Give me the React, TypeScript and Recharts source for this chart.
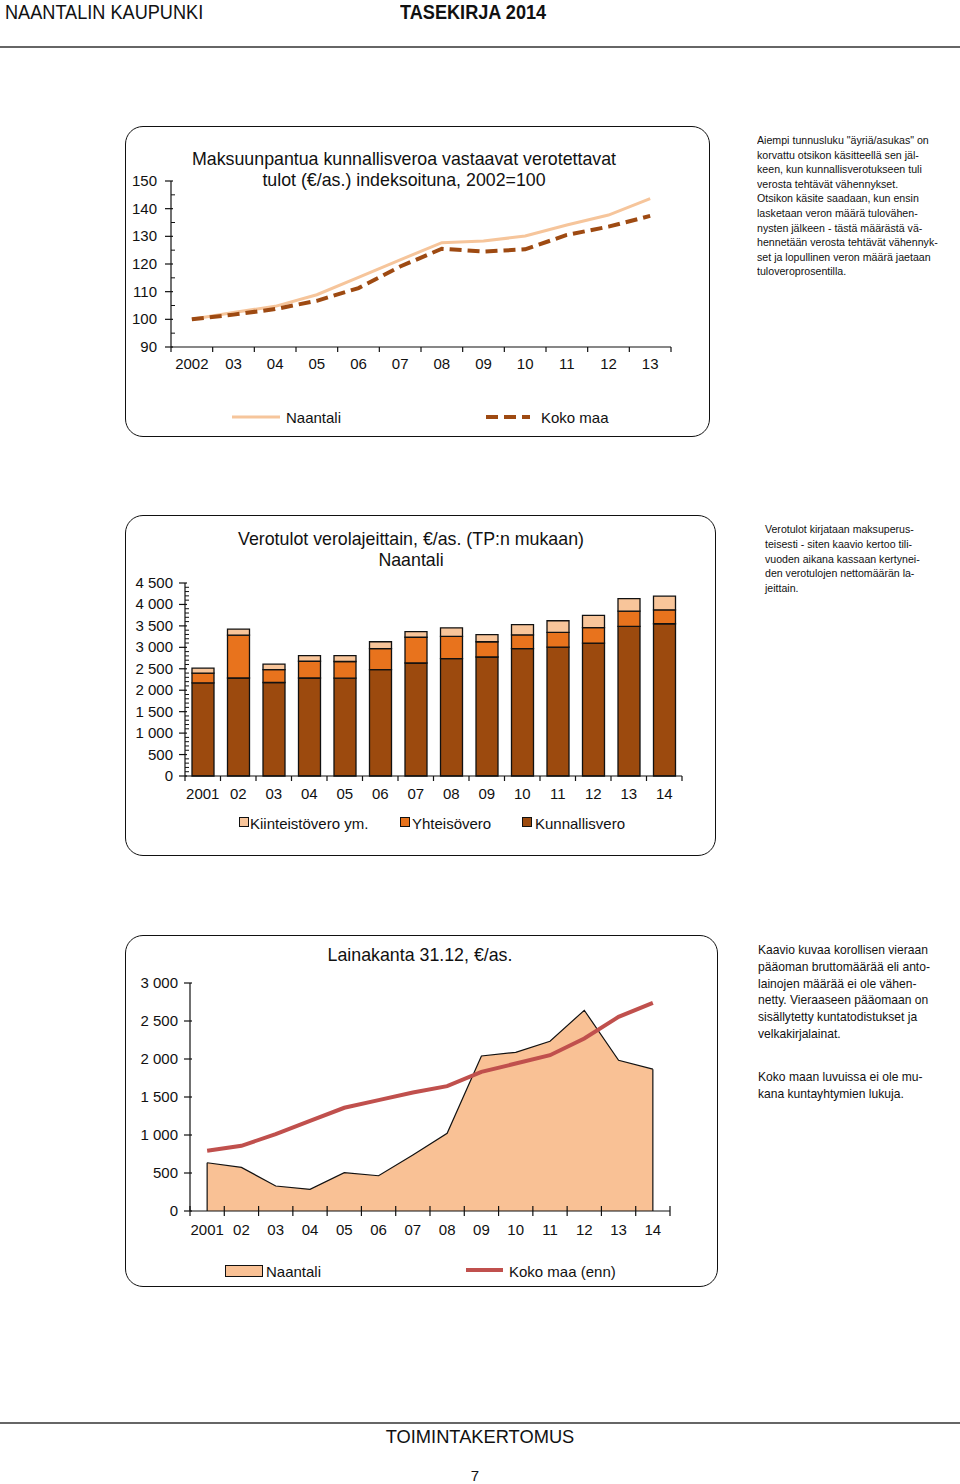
import React from "react";
import {
  LineChart,
  Line,
  BarChart,
  Bar,
  ComposedChart,
  Area,
  XAxis,
  YAxis,
  ReferenceLine,
} from "recharts";

// --- chart 1: taxable income index ---
const indexYears = ["2002", "03", "04", "05", "06", "07", "08", "09", "10", "11", "12", "13"];
const naantaliIndex = [100, 102.5, 104.7, 108.9, 115.2, 121.5, 127.7, 128.3, 130.1, 134.1, 137.7, 143.6];
const kokoMaaIndex = [100, 101.7, 103.7, 106.7, 111.3, 119.1, 125.5, 124.5, 125.3, 130.5, 133.5, 137.4];
const indexTicks = [90, 95, 100, 105, 110, 115, 120, 125, 130, 135, 140, 145, 150];

// --- chart 2: tax revenue by type ---
const taxYears = ["2001", "02", "03", "04", "05", "06", "07", "08", "09", "10", "11", "12", "13", "14"];
const kunnallisvero = [2170, 2285, 2180, 2285, 2280, 2480, 2635, 2735, 2775, 2970, 3005, 3100, 3490, 3550];
const yhteisovero = [230, 1000, 300, 390, 390, 490, 600, 520, 355, 320, 345, 360, 355, 325];
const kiinteistovero = [115, 140, 130, 130, 135, 160, 130, 200, 165, 240, 270, 285, 290, 320];

// --- chart 3: loan stock ---
const loanYears = ["2001", "02", "03", "04", "05", "06", "07", "08", "09", "10", "11", "12", "13", "14"];
const naantaliLoan = [635, 574, 329, 285, 504, 464, 737, 1022, 2040, 2088, 2234, 2641, 1984, 1866];
const kokoMaaLoan = [793, 858, 1012, 1187, 1358, 1459, 1559, 1643, 1831, 1940, 2050, 2269, 2554, 2738];
const loanTicks = [0, 500, 1000, 1500, 2000, 2500, 3000];

const indexData = indexYears.map((y, i) => ({ year: y, naantali: naantaliIndex[i], kokoMaa: kokoMaaIndex[i] }));
const taxData = taxYears.map((y, i) => ({
  year: y,
  kunnallis: kunnallisvero[i],
  yhteiso: yhteisovero[i],
  kiinteisto: kiinteistovero[i],
}));
const loanData = loanYears.map((y, i) => ({ year: y, naantali: naantaliLoan[i], kokoMaa: kokoMaaLoan[i] }));

// minor ticks every 100 on the tax chart
const taxTicks: number[] = [];
for (let v = 0; v <= 4500; v += 100) taxTicks.push(v);

const FONT = "'Liberation Sans', Arial, sans-serif";
const INK = "#111";

function fmtThousands(v: number): string {
  if (v < 1000) return String(v);
  return `${Math.floor(v / 1000)}\u00a0${String(v % 1000).padStart(3, "0")}`;
}

function makeYTick(opts: { majorStep: number; labelGap: number; fmt?: (v: number) => string }) {
  return (props: any) => {
    const { x, y, payload } = props;
    const v = payload.value as number;
    const major = v % opts.majorStep === 0;
    return (
      <g>
        {major ? (
          <line x1={x - 6} x2={x + 2} y1={y} y2={y} stroke={INK} strokeWidth={1.2} />
        ) : (
          <line x1={x} x2={x + 4} y1={y} y2={y} stroke={INK} strokeWidth={1} />
        )}
        {major && (
          <text x={x - opts.labelGap} y={y + 5} textAnchor="end" fontSize={15} fontFamily={FONT} fill={INK}>
            {opts.fmt ? opts.fmt(v) : v}
          </text>
        )}
      </g>
    );
  };
}

function makeXTick(band: number, count: number, labelDy: number, up: number) {
  return (props: any) => {
    const { x, y, payload, index } = props;
    const left = x - band / 2;
    const right = x + band / 2;
    return (
      <g>
        <line x1={left} x2={left} y1={y - up} y2={y + 5} stroke={INK} strokeWidth={1.2} />
        {index === count - 1 && <line x1={right} x2={right} y1={y - up} y2={y + 5} stroke={INK} strokeWidth={1.2} />}
        <text x={x} y={y + labelDy} textAnchor="middle" fontSize={15} fontFamily={FONT} fill={INK}>
          {payload.value}
        </text>
      </g>
    );
  };
}

const boxStyle: React.CSSProperties = {
  position: "absolute",
  left: 0,
  top: 0,
  right: 0,
  bottom: 0,
  border: `1.6px solid ${INK}`,
  borderRadius: 18,
};

const titleStyle: React.CSSProperties = {
  position: "absolute",
  fontFamily: FONT,
  fontSize: 17.8,
  color: INK,
  whiteSpace: "nowrap",
  transform: "translate(-50%, -50%)",
  lineHeight: 1,
};

const legendText: React.CSSProperties = {
  position: "absolute",
  fontFamily: FONT,
  fontSize: 15,
  color: INK,
  whiteSpace: "nowrap",
  transform: "translateY(-50%)",
  lineHeight: 1,
};

function IndexChart() {
  const W = 585;
  const H = 311;
  const m = { top: 55, right: 39, bottom: 60, left: 0 };
  const yW = 46;
  const band = (W - m.left - m.right - yW) / indexYears.length;
  return (
    <div style={{ position: "absolute", left: 125, top: 126, width: W, height: H }}>
      <div style={boxStyle} />
      <div style={{ position: "absolute", left: 0, top: 0 }}>
        <LineChart width={W} height={H} data={indexData} margin={m}>
          <XAxis
            dataKey="year"
            scale="band"
            interval={0}
            axisLine={{ stroke: INK, strokeWidth: 1.2 }}
            tickLine={false}
            tickSize={0}
            tickMargin={0}
            height={30}
            tick={makeXTick(band, indexYears.length, 22, 0)}
          />
          <YAxis
            width={yW}
            domain={[90, 150]}
            ticks={indexTicks}
            interval={0}
            axisLine={{ stroke: INK, strokeWidth: 1.2 }}
            tickLine={false}
            tickSize={0}
            tickMargin={0}
            tick={makeYTick({ majorStep: 10, labelGap: 14 })}
          />
          <Line type="linear" dataKey="naantali" stroke="#F6C59B" strokeWidth={3} dot={false} isAnimationActive={false} />
          <Line
            type="linear"
            dataKey="kokoMaa"
            stroke="#9E4A12"
            strokeWidth={4}
            strokeDasharray="12 6"
            dot={false}
            isAnimationActive={false}
          />
        </LineChart>
      </div>
      <div style={{ ...titleStyle, left: 279, top: 34 }}>Maksuunpantua kunnallisveroa vastaavat verotettavat</div>
      <div style={{ ...titleStyle, left: 279, top: 55 }}>tulot (€/as.) indeksoituna, 2002=100</div>
      <svg style={{ position: "absolute", left: 0, top: 0 }} width={W} height={H}>
        <line x1={107} x2={155} y1={291} y2={291} stroke="#F6C59B" strokeWidth={3} />
        <line x1={361} x2={405} y1={291} y2={291} stroke="#9E4A12" strokeWidth={4} strokeDasharray="12 6" />
      </svg>
      <div style={{ ...legendText, left: 161, top: 291 }}>Naantali</div>
      <div style={{ ...legendText, left: 416, top: 291 }}>Koko maa</div>
    </div>
  );
}

function TaxChart() {
  const W = 591;
  const H = 341;
  const m = { top: 68, right: 34, bottom: 50, left: 0 };
  const yW = 60;
  const band = (W - m.left - m.right - yW) / taxYears.length;
  const sq = (c: string): React.CSSProperties => ({
    position: "absolute",
    width: 8,
    height: 8,
    background: c,
    border: `1px solid ${INK}`,
    transform: "translateY(-50%)",
  });
  return (
    <div style={{ position: "absolute", left: 125, top: 515, width: W, height: H }}>
      <div style={boxStyle} />
      <div style={{ position: "absolute", left: 0, top: 0 }}>
        <BarChart width={W} height={H} data={taxData} margin={m} barSize={22}>
          <XAxis
            dataKey="year"
            interval={0}
            axisLine={{ stroke: INK, strokeWidth: 1.2 }}
            tickLine={false}
            tickSize={0}
            tickMargin={0}
            height={30}
            tick={makeXTick(band, taxYears.length, 23, 0)}
          />
          <YAxis
            width={yW}
            domain={[0, 4500]}
            ticks={taxTicks}
            interval={0}
            axisLine={{ stroke: INK, strokeWidth: 1.2 }}
            tickLine={false}
            tickSize={0}
            tickMargin={0}
            tick={makeYTick({ majorStep: 500, labelGap: 12, fmt: fmtThousands })}
          />
          <Bar dataKey="kunnallis" stackId="t" fill="#9C4A0E" stroke={INK} strokeWidth={1.3} isAnimationActive={false} />
          <Bar dataKey="yhteiso" stackId="t" fill="#E8731D" stroke={INK} strokeWidth={1.3} isAnimationActive={false} />
          <Bar dataKey="kiinteisto" stackId="t" fill="#F8C59A" stroke={INK} strokeWidth={1.3} isAnimationActive={false} />
        </BarChart>
      </div>
      <div style={{ ...titleStyle, left: 286, top: 25 }}>Verotulot verolajeittain, €/as. (TP:n mukaan)</div>
      <div style={{ ...titleStyle, left: 286, top: 46 }}>Naantali</div>
      <div style={{ ...sq("#F8C59A"), left: 114, top: 307 }} />
      <div style={{ ...legendText, left: 125, top: 308 }}>Kiinteistövero ym.</div>
      <div style={{ ...sq("#E8731D"), left: 275, top: 307 }} />
      <div style={{ ...legendText, left: 287, top: 308 }}>Yhteisövero</div>
      <div style={{ ...sq("#9C4A0E"), left: 397, top: 307 }} />
      <div style={{ ...legendText, left: 410, top: 308 }}>Kunnallisvero</div>
    </div>
  );
}

function LoanChart() {
  const W = 593;
  const H = 352;
  const m = { top: 48, right: 48, bottom: 46, left: 0 };
  const yW = 65;
  const band = (W - m.left - m.right - yW) / loanYears.length;
  const first = loanYears[0];
  const last = loanYears[loanYears.length - 1];
  return (
    <div style={{ position: "absolute", left: 125, top: 935, width: W, height: H }}>
      <div style={boxStyle} />
      <div style={{ position: "absolute", left: 0, top: 0 }}>
        <ComposedChart width={W} height={H} data={loanData} margin={m}>
          <XAxis
            dataKey="year"
            scale="band"
            interval={0}
            axisLine={{ stroke: INK, strokeWidth: 1.2 }}
            tickLine={false}
            tickSize={0}
            tickMargin={0}
            height={30}
            tick={makeXTick(band, loanYears.length, 24, 5)}
          />
          <YAxis
            width={yW}
            domain={[0, 3000]}
            ticks={loanTicks}
            interval={0}
            axisLine={{ stroke: INK, strokeWidth: 1.2 }}
            tickLine={false}
            tickSize={0}
            tickMargin={0}
            tick={makeYTick({ majorStep: 500, labelGap: 12, fmt: fmtThousands })}
          />
          <Area
            type="linear"
            dataKey="naantali"
            fill="#F9C195"
            fillOpacity={1}
            stroke={INK}
            strokeWidth={1.2}
            isAnimationActive={false}
          />
          <ReferenceLine
            segment={[
              { x: first, y: 0 },
              { x: first, y: naantaliLoan[0] },
            ]}
            stroke={INK}
            strokeWidth={1.2}
          />
          <ReferenceLine
            segment={[
              { x: last, y: 0 },
              { x: last, y: naantaliLoan[naantaliLoan.length - 1] },
            ]}
            stroke={INK}
            strokeWidth={1.2}
          />
          <Line type="linear" dataKey="kokoMaa" stroke="#C0504D" strokeWidth={4} dot={false} isAnimationActive={false} />
        </ComposedChart>
      </div>
      <div style={{ ...titleStyle, left: 295, top: 21 }}>Lainakanta 31.12, €/as.</div>
      <div
        style={{
          position: "absolute",
          left: 100,
          top: 330,
          width: 36,
          height: 10,
          background: "#F9C195",
          border: `1.2px solid ${INK}`,
        }}
      />
      <div style={{ ...legendText, left: 141, top: 336 }}>Naantali</div>
      <svg style={{ position: "absolute", left: 0, top: 0 }} width={W} height={H}>
        <line x1={341} x2={378} y1={335} y2={335} stroke="#C0504D" strokeWidth={4} />
      </svg>
      <div style={{ ...legendText, left: 384, top: 336 }}>Koko maa (enn)</div>
    </div>
  );
}

// the source uses a condensed face; squeeze horizontally to match
const noteStyle = (size: number, lh: number, sx: number): React.CSSProperties => ({
  position: "absolute",
  fontFamily: FONT,
  fontSize: size,
  lineHeight: `${lh}px`,
  color: INK,
  whiteSpace: "nowrap",
  transform: `scaleX(${sx})`,
  transformOrigin: "0 0",
});

const headerStyle: React.CSSProperties = {
  position: "absolute",
  top: 1,
  fontFamily: FONT,
  fontSize: 19.5,
  lineHeight: "22px",
  color: INK,
  whiteSpace: "nowrap",
  transform: "scaleX(0.93)",
  transformOrigin: "0 0",
};

export default function App() {
  return (
    <div
      style={{
        position: "absolute",
        left: 0,
        top: 0,
        width: 960,
        height: 1484,
        background: "#fff",
        overflow: "hidden",
        fontFamily: FONT,
      }}
    >
      <div style={{ ...headerStyle, left: 5 }}>NAANTALIN KAUPUNKI</div>
      <div style={{ ...headerStyle, left: 400, fontWeight: "bold" }}>TASEKIRJA 2014</div>
      <div style={{ position: "absolute", left: 0, top: 46, width: 960, height: 2, background: "#666" }} />

      <IndexChart />
      <div style={{ ...noteStyle(11.5, 14.6, 0.924), left: 757, top: 133 }}>
        Aiempi tunnusluku "äyriä/asukas" on
        <br />
        korvattu otsikon käsitteellä sen jäl-
        <br />
        keen, kun kunnallisverotukseen tuli
        <br />
        verosta tehtävät vähennykset.
        <br />
        Otsikon käsite saadaan, kun ensin
        <br />
        lasketaan veron määrä tulovähen-
        <br />
        nysten jälkeen - tästä määrästä vä-
        <br />
        hennetään verosta tehtävät vähennyk-
        <br />
        set ja lopullinen veron määrä jaetaan
        <br />
        tuloveroprosentilla.
      </div>

      <TaxChart />
      <div style={{ ...noteStyle(11.5, 14.8, 0.92), left: 765, top: 522 }}>
        Verotulot kirjataan maksuperus-
        <br />
        teisesti - siten kaavio kertoo tili-
        <br />
        vuoden aikana kassaan kertynei-
        <br />
        den verotulojen nettomäärän la-
        <br />
        jeittain.
      </div>

      <LoanChart />
      <div style={{ ...noteStyle(13.5, 16.8, 0.895), left: 758, top: 942 }}>
        Kaavio kuvaa korollisen vieraan
        <br />
        pääoman bruttomäärää eli anto-
        <br />
        lainojen määrää ei ole vähen-
        <br />
        netty. Vieraaseen pääomaan on
        <br />
        sisällytetty kuntatodistukset ja
        <br />
        velkakirjalainat.
      </div>
      <div style={{ ...noteStyle(13.5, 16.8, 0.895), left: 758, top: 1069 }}>
        Koko maan luvuissa ei ole mu-
        <br />
        kana kuntayhtymien lukuja.
      </div>

      <div style={{ position: "absolute", left: 0, top: 1422, width: 960, height: 2, background: "#666" }} />
      <div
        style={{
          position: "absolute",
          left: 480,
          top: 1437,
          transform: "translate(-50%, -50%)",
          fontFamily: FONT,
          fontSize: 18.3,
          lineHeight: 1,
          color: INK,
        }}
      >
        TOIMINTAKERTOMUS
      </div>
      <div
        style={{
          position: "absolute",
          left: 475,
          top: 1475,
          transform: "translate(-50%, -50%)",
          fontFamily: FONT,
          fontSize: 15,
          lineHeight: 1,
          color: INK,
        }}
      >
        7
      </div>
    </div>
  );
}
